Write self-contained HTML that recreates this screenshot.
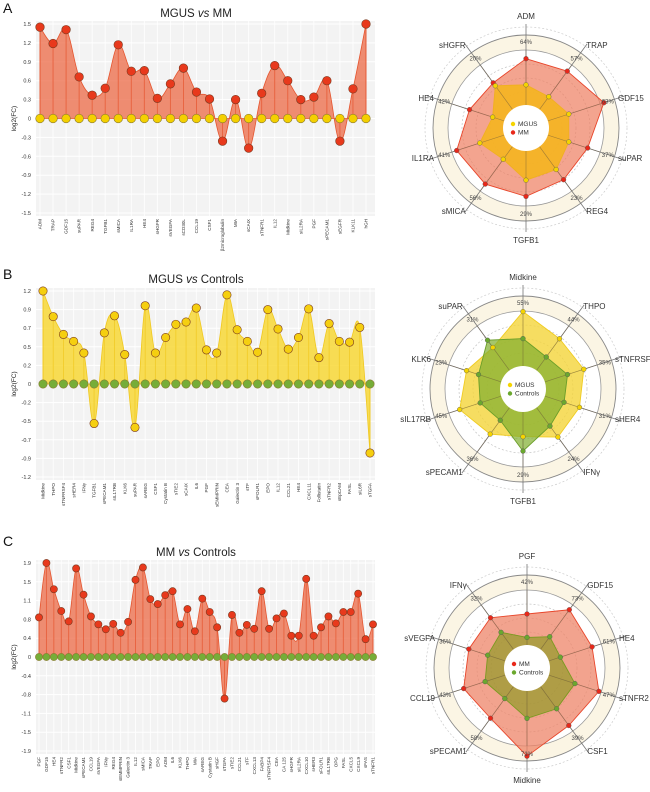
<!DOCTYPE html>
<html><head><meta charset="utf-8"><style>
html,body{margin:0;padding:0;background:#fff}
svg{display:block;font-family:"Liberation Sans",sans-serif}
</style></head><body>
<svg id="fig" width="650" height="792" viewBox="0 0 650 792" xmlns="http://www.w3.org/2000/svg"></svg>
<script>
// ---- Panel A data ----
const catsA = ["ADM","TRAP","GDF15","suPAR","REG4","TGFB1","sMICA","IL1RA","HE4","sHGFR","sVEGFA","sCD30L","CCL19","CSF1","β2microglobulin","MIA","sCAIX","sTNFR1","IL12","Midkine","sIL2RA","PGF","sPECAM1","sEGFR","KLK11","hGH"];
const valsA = [1.45,1.19,1.41,0.66,0.37,0.48,1.17,0.75,0.76,0.32,0.55,0.80,0.42,0.31,-0.36,0.30,-0.47,0.40,0.84,0.60,0.30,0.34,0.60,-0.36,0.47,1.50];
const ticksA = ["1.5","1.2","0.9","0.6","0.3","0","-0.3","-0.6","-0.9","-1.2","-1.5"];
// ---- Panel B data ----
const catsB = ["Midkine","THPO","sTNFRSF4","sHER4","IFNγ","TGFB1","sPECAM1","sIL17RB","KLK6","suPAR","sAREG","CSF1","Cystatin B","sTIE2","sCAIX","IL6","PGF","sEMMPRIN","CEA","Galectin 3","sTF","sFOLR1","EPO","IL12","CCL21","HE4","CXCL11","Follistatin","sTNFR2","sEpCAM","FASL","sIL6R","sTGFA"];
const valsB = [1.2,0.87,0.64,0.55,0.40,-0.51,0.66,0.88,0.38,-0.56,1.01,0.40,0.60,0.77,0.80,0.98,0.44,0.40,1.15,0.70,0.55,0.41,0.96,0.71,0.45,0.60,0.97,0.34,0.78,0.55,0.54,0.73,-0.89];
const ticksB = ["1.2","0.9","0.7","0.5","0.2","0","-0.2","-0.5","-0.7","-0.9","-1.2"];
// ---- Panel C data ----
const catsC = ["PGF","GDF15","HE4","sTNFR2","CSF1","Midkine","sPECAM1","CCL19","sVEGFA","IFNγ","REG4","sEMMPRIN","Galectin 3","IL12","sMICA","TRAP","EPO","ADM","IL6","KLK6","THPO","MIA","sAREG","Cystatin B","sHGF","sTGFA","sTIE2","CCL21","sTF","CXCL13","FABP4","sTNFRSF4","CEA","CA 125","sHGFR","sIL2RA","CXCL10","sHER3","sFOLR1","sIL17RB","OPG","FASL","CXCL5","CXCL9","sFAS","sTNFR1"];
const valsC = [0.80,1.90,1.37,0.93,0.72,1.79,1.26,0.82,0.66,0.56,0.67,0.49,0.71,1.56,1.81,1.17,1.07,1.25,1.33,0.66,0.97,0.52,1.18,0.91,0.60,-0.84,0.85,0.49,0.65,0.57,1.33,0.57,0.78,0.88,0.43,0.43,1.58,0.43,0.60,0.82,0.68,0.91,0.91,1.28,0.36,0.66];
const ticksC = ["1.9","1.5","1.1","0.8","0.4","0","-0.4","-0.8","-1.1","-1.5","-1.9"];
// ---- Radar data ----
const radarAxesA = ["ADM","TRAP","GDF15","suPAR","REG4","TGFB1","sMICA","IL1RA","HE4","sHGFR"];
const radarPctA = ["64%","57%","63%","37%","23%","29%","56%","41%","42%","20%"];
const radarA_MM = [0.77,0.78,0.91,0.72,0.71,0.76,0.77,0.81,0.66,0.62];
const radarA_MGUS = [0.48,0.43,0.50,0.50,0.57,0.58,0.43,0.54,0.39,0.58];
const radarAxesB = ["Midkine","THPO","sTNFRSF4","sHER4","IFNγ","TGFB1","sPECAM1","sIL17RB","KLK6","suPAR"];
const radarPctB = ["55%","44%","35%","31%","24%","29%","36%","45%","23%","31%"];
const radarB_MGUS = [0.86,0.69,0.71,0.66,0.66,0.53,0.62,0.74,0.66,0.57];
const radarB_Ctrl = [0.56,0.44,0.52,0.48,0.51,0.69,0.43,0.50,0.52,0.67];
const radarAxesC = ["PGF","GDF15","HE4","sTNFR2","CSF1","Midkine","sPECAM1","CCL19","sVEGFA","IFNγ"];
const radarPctC = ["42%","73%","61%","47%","39%","71%","58%","43%","36%","32%"];
const radarC_MM = [0.60,0.80,0.76,0.84,0.79,0.98,0.69,0.74,0.68,0.69];
const radarC_Ctrl = [0.34,0.43,0.39,0.56,0.56,0.56,0.42,0.49,0.46,0.49];

const NS="http://www.w3.org/2000/svg";
const svg=document.getElementById('fig');
function mk(tag,attrs,parent){const e=document.createElementNS(NS,tag);for(const k in attrs)e.setAttribute(k,attrs[k]);(parent||svg).appendChild(e);return e;}
function txt(s,attrs,parent){const e=mk('text',attrs,parent);e.textContent=s;return e;}

function smoothPath(pts){
  let d="M"+pts[0][0]+","+pts[0][1];
  for(let i=0;i<pts.length-1;i++){
    const p0=pts[Math.max(0,i-1)],p1=pts[i],p2=pts[i+1],p3=pts[Math.min(pts.length-1,i+2)];
    const t=0.18;
    const c1x=p1[0]+(p2[0]-p0[0])*t,c1y=p1[1]+(p2[1]-p0[1])*t;
    const c2x=p2[0]-(p3[0]-p1[0])*t,c2y=p2[1]-(p3[1]-p1[1])*t;
    d+=" C"+c1x+","+c1y+" "+c2x+","+c2y+" "+p2[0]+","+p2[1];
  }
  return d;
}

function lineChart(o){
  const g=mk('g',{});
  
  
  const n=o.cats.length;
  const xs=i=>o.xa+i*(o.xb-o.xa)/(n-1);
  const ys=v=>o.yTop+(o.max-v)/(2*o.max)*(o.yBot-o.yTop);
  const bg=mk('rect',{x:36,y:o.yTop-3,width:339,height:o.yBot-o.yTop+6,fill:'#f3f3f3'},g);
  
  
  for(let i=0;i<o.ticks.length;i++){
    const y=o.yTop+i*(o.yBot-o.yTop)/(o.ticks.length-1);
    mk('line',{x1:36,x2:375,y1:y,y2:y,stroke:'#fff','stroke-width':1},g);
    const t=txt(o.ticks[i],{x:31,y:y+2,'font-size':5.5,'text-anchor':'end',fill:'#333'},g);
    
    
  }
  for(let i=0;i<n;i++){mk('line',{x1:xs(i),x2:xs(i),y1:o.yTop-3,y2:o.yBot+3,stroke:'#fff','stroke-width':0.8},g);}
  const y0=ys(0);
  const pts=o.vals.map((v,i)=>[xs(i),ys(v)]);
  const area=mk('path',{d:smoothPath(pts)+" L"+xs(n-1)+","+y0+" L"+xs(0)+","+y0+" Z",fill:o.fill,'fill-opacity':o.fillOp,stroke:o.stroke,'stroke-width':0.8},g);
  
  
  for(let i=0;i<n;i++){mk('line',{x1:xs(i),x2:xs(i),y1:y0,y2:ys(o.vals[i]),stroke:o.stroke,'stroke-width':0.9,'stroke-opacity':0.8},g);}
  for(let i=0;i<n;i++){
    const c=mk('circle',{cx:xs(i),cy:y0,r:o.r,fill:o.baseColor,stroke:'#8a7a30','stroke-width':0.6},g);
    
    
  }
  for(let i=0;i<n;i++){
    const c=mk('circle',{cx:xs(i),cy:ys(o.vals[i]),r:o.r,fill:o.ptColor,stroke:'#7a3a20','stroke-width':0.6},g);
    
    
    const t=txt(o.cats[i],{x:0,y:0,'font-size':4.6,'text-anchor':'end',fill:'#333',transform:'translate('+(xs(i)+1.6)+','+(o.yBot+6)+') rotate(-90)'},g);
    
    
  }
  const tt=txt('',{x:196,y:o.titleY,'font-size':11.5,'text-anchor':'middle',fill:'#222'},g);
  tt.innerHTML=o.title;
  
  
  const yt=txt('log2(FC)',{x:0,y:0,'font-size':6.5,'text-anchor':'middle',fill:'#222',transform:'translate(16,'+((o.yTop+o.yBot)/2)+') rotate(-90)'},g);
  
  
  const pl=txt(o.letter,{x:3,y:o.letterY,'font-size':14,fill:'#111'},g);
  
  
}

lineChart({name:'chart-mgus-vs-mm',cats:catsA,vals:valsA,ticks:ticksA,max:1.5,xa:40,xb:366,yTop:24,yBot:213,fill:'#ec6a45',fillOp:0.75,stroke:'#e5552f',ptColor:'#e8391c',baseColor:'#f4d000',r:4.3,title:'MGUS <tspan font-style="italic">vs</tspan> MM',titleY:17,letter:'A',letterY:13});
lineChart({name:'chart-mgus-vs-controls',cats:catsB,vals:valsB,ticks:ticksB,max:1.2,xa:43,xb:370,yTop:291,yBot:477,fill:'#f7d62a',fillOp:0.8,stroke:'#f0c820',ptColor:'#f5cf10',baseColor:'#76ad38',r:4.2,title:'MGUS <tspan font-style="italic">vs</tspan> Controls',titleY:283,letter:'B',letterY:279});
lineChart({name:'chart-mm-vs-controls',cats:catsC,vals:valsC,ticks:ticksC,max:1.9,xa:39,xb:373,yTop:563,yBot:751,fill:'#ec6a45',fillOp:0.75,stroke:'#e5552f',ptColor:'#e8391c',baseColor:'#76ad38',r:3.6,title:'MM <tspan font-style="italic">vs</tspan> Controls',titleY:556,letter:'C',letterY:546});

function radar(o){
  const g=mk('g',{});
  
  
  const cx=o.cx,cy=o.cy,R=90,n=o.axes.length;
  const ang=i=>(i*360/n-90)*Math.PI/180;
  mk('circle',{cx,cy,r:101,fill:'none',stroke:'#ccc','stroke-width':0.7,'stroke-dasharray':'2,2'},g);
  mk('circle',{cx,cy,r:93,fill:'#fbf5e4',stroke:'#888','stroke-width':0.9},g);
  mk('circle',{cx,cy,r:78,fill:'#fff',stroke:'#999','stroke-width':0.8},g);
  [64,50,36].forEach(r=>mk('circle',{cx,cy,r,fill:'none',stroke:'#bbb','stroke-width':0.6,'stroke-dasharray':'2,2'},g));
  for(let i=0;i<n;i++){
    const a=ang(i);
    mk('line',{x1:cx+23*Math.cos(a),y1:cy+23*Math.sin(a),x2:cx+104*Math.cos(a),y2:cy+104*Math.sin(a),stroke:'#777','stroke-width':0.8},g);
  }
  function poly(vals,fill,op,stroke,dname){
    const pts=vals.map((v,i)=>[cx+v*R*Math.cos(ang(i)),cy+v*R*Math.sin(ang(i))]);
    const p=mk('polygon',{points:pts.map(q=>q.join(',')).join(' '),fill,'fill-opacity':op,stroke,'stroke-width':0.9},g);
    
    
    return pts;
  }
  const p1=poly(o.s1,o.c1fill,o.c1op,o.c1stroke,o.n1);
  const p2=poly(o.s2,o.c2fill,o.c2op,o.c2stroke,o.n2);
  for(let i=0;i<n;i++){const a=ang(i);mk('line',{x1:cx+23*Math.cos(a),y1:cy+23*Math.sin(a),x2:cx+78*Math.cos(a),y2:cy+78*Math.sin(a),stroke:'#6a5a40','stroke-width':0.6,'stroke-opacity':0.6},g);}
  p1.forEach(q=>{const c=mk('circle',{cx:q[0],cy:q[1],r:2.4,fill:o.c1dot,stroke:'#555','stroke-width':0.4},g);});
  p2.forEach(q=>{const c=mk('circle',{cx:q[0],cy:q[1],r:2.4,fill:o.c2dot,stroke:'#555','stroke-width':0.4},g);});
  mk('circle',{cx,cy,r:23,fill:'#fff'},g);
  for(let i=0;i<n;i++){
    const a=ang(i),c=Math.cos(a),sn=Math.sin(a);
    const anc=Math.abs(c)<0.2?'middle':(c>0?'start':'end');
    const lr=112-16*Math.abs(c);
    const t=txt(o.axes[i],{x:cx+lr*c,y:cy+lr*sn+3,'font-size':8,'text-anchor':anc,fill:'#333'},g);
    
    
    const pt=txt(o.pct[i],{x:cx+86*c,y:cy+86*sn+2.2,'font-size':6,'text-anchor':'middle',fill:'#444'},g);
    
    
  }
  const lg=mk('g',{},g);
  
  
  mk('circle',{cx:cx-13,cy:cy-4,r:2.2,fill:o.leg1},lg);
  txt(o.l1,{x:cx-8,y:cy-1.8,'font-size':6.5,fill:'#333'},lg);
  mk('circle',{cx:cx-13,cy:cy+4.5,r:2.2,fill:o.leg2},lg);
  txt(o.l2,{x:cx-8,y:cy+6.7,'font-size':6.5,fill:'#333'},lg);
}
radar({name:'radar-mgus-mm',cx:526,cy:128,axes:radarAxesA,pct:radarPctA,s1:radarA_MM,s2:radarA_MGUS,c1fill:'#ee7d60',c1op:0.7,c1stroke:'#e8452a',c1dot:'#e8281a',n1:'mm',c2fill:'#f5b51f',c2op:0.9,c2stroke:'#f0b020',c2dot:'#f5d400',n2:'mgus',l1:'MGUS',l2:'MM',leg1:'#f5d400',leg2:'#e8281a'});
radar({name:'radar-mgus-controls',cx:523,cy:389,axes:radarAxesB,pct:radarPctB,s1:radarB_MGUS,s2:radarB_Ctrl,c1fill:'#f4d53a',c1op:0.8,c1stroke:'#f0cc20',c1dot:'#f5d400',n1:'mgus',c2fill:'#7fae2e',c2op:0.7,c2stroke:'#6a9e28',c2dot:'#6aa82e',n2:'controls',l1:'MGUS',l2:'Controls',leg1:'#f5d400',leg2:'#6aa82e'});
radar({name:'radar-mm-controls',cx:527,cy:668,axes:radarAxesC,pct:radarPctC,s1:radarC_MM,s2:radarC_Ctrl,c1fill:'#ee8468',c1op:0.75,c1stroke:'#e8452a',c1dot:'#e8281a',n1:'mm',c2fill:'#8a9a20',c2op:0.65,c2stroke:'#7a9a20',c2dot:'#6aa82e',n2:'controls',l1:'MM',l2:'Controls',leg1:'#e8281a',leg2:'#6aa82e'});
</script>
</body></html>
